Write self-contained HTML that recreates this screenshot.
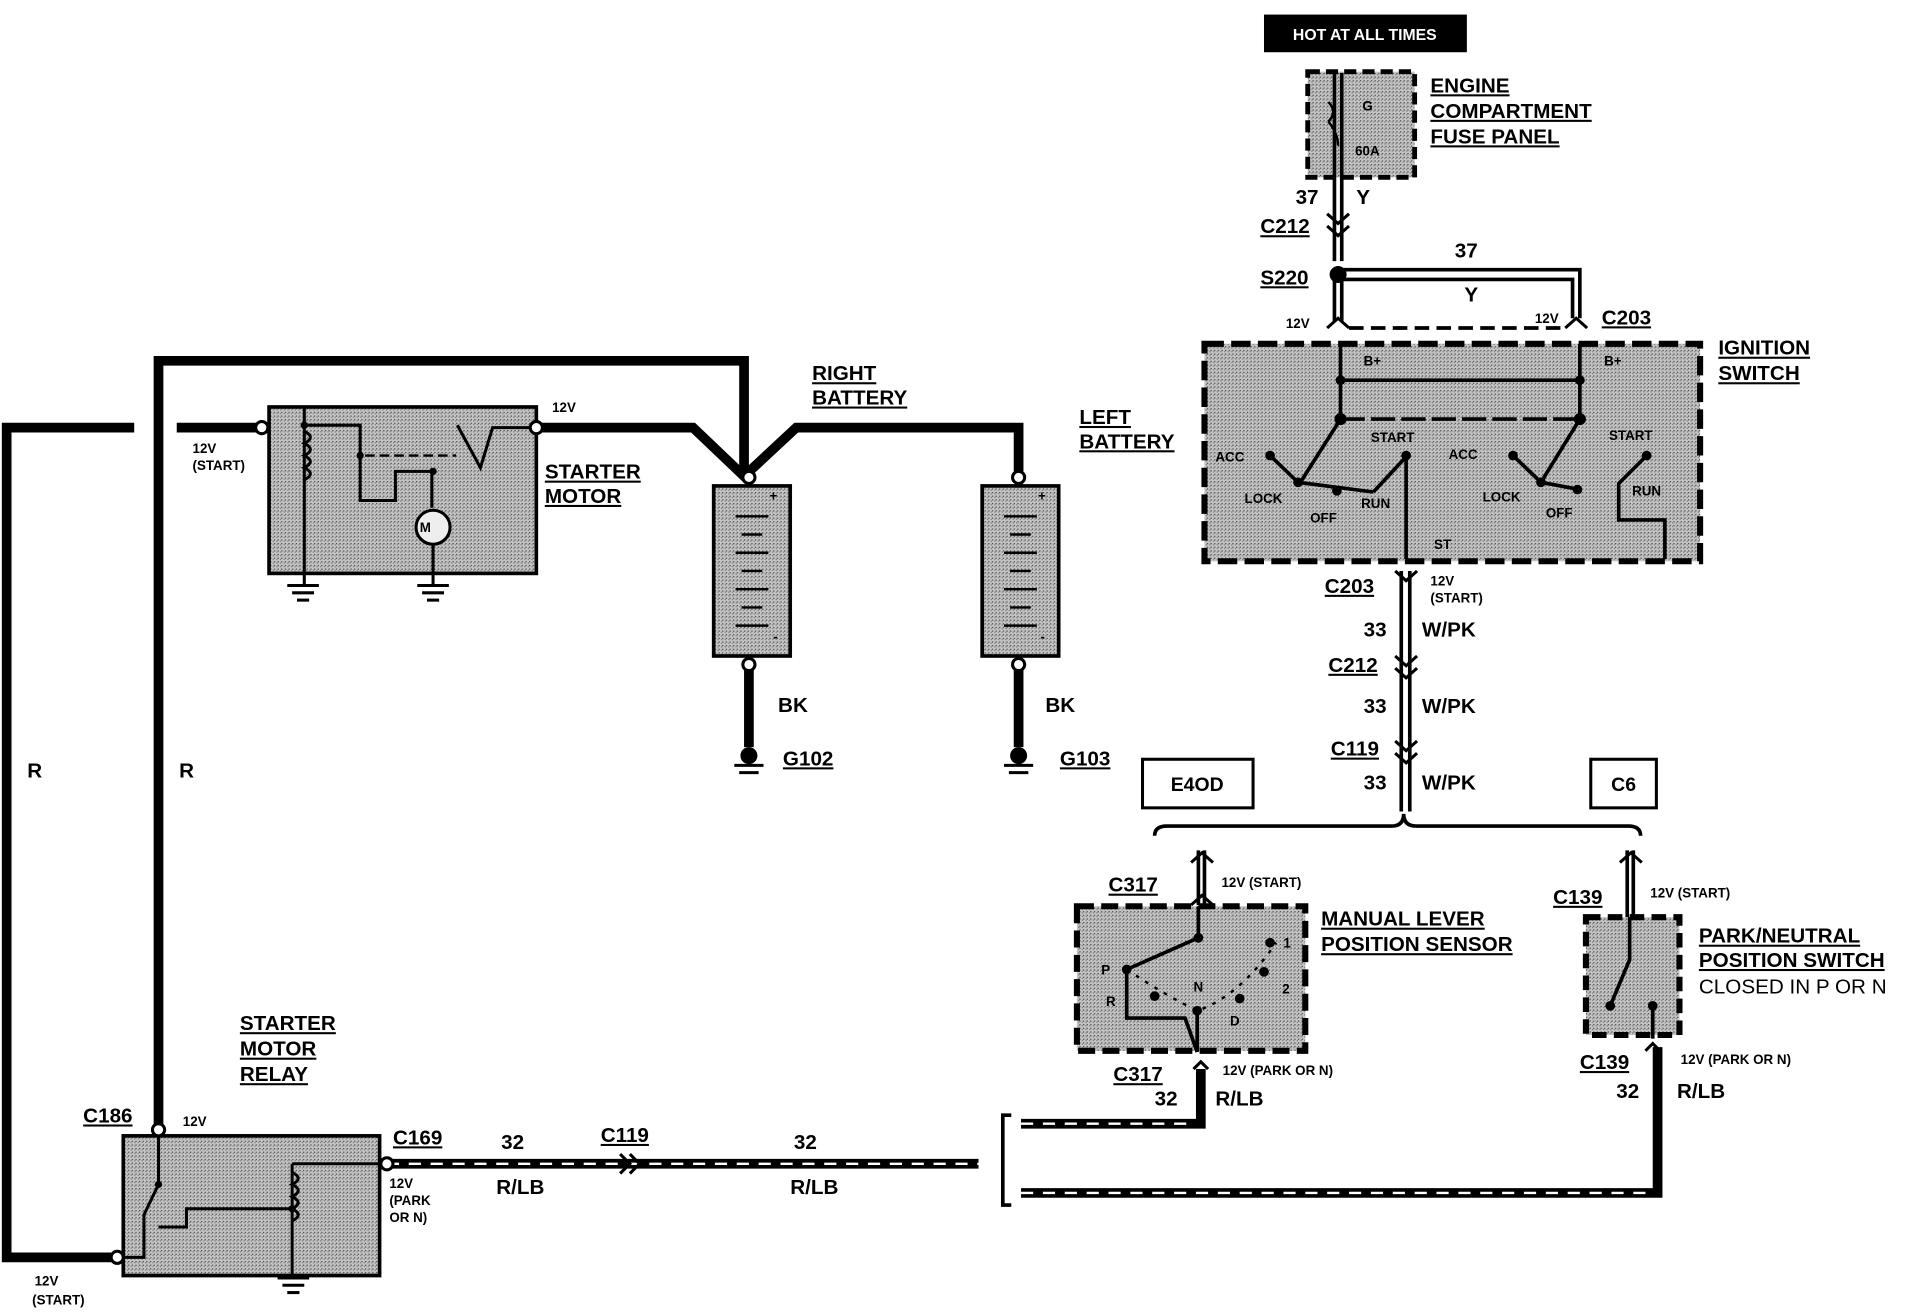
<!DOCTYPE html>
<html><head><meta charset="utf-8"><style>
html,body{margin:0;padding:0;background:#fff;}
svg{display:block;}
text{font-family:"Liberation Sans",Arial,sans-serif;font-weight:bold;fill:#000;}
.u{text-decoration:underline;}
</style></head><body>
<svg width="1906" height="1312" viewBox="0 0 1568 1080" xmlns="http://www.w3.org/2000/svg">
<defs>
<pattern id="st" width="3" height="3" patternUnits="userSpaceOnUse">
<rect width="3" height="3" fill="#c4c4c4"/><rect width="1" height="1" fill="#444"/><rect x="2" y="1" width="1" height="1" fill="#777"/>
</pattern>
</defs>
<g fill="none" stroke="#000" stroke-linejoin="miter">
<polyline points="110,352 5,352 5,1035 92,1035" stroke-width="8"/>
<polyline points="130,928 130,297 612,297 612,392" stroke-width="8"/>
<line x1="145" y1="352" x2="214" y2="352" stroke-width="8"/>
<polyline points="444,352 570,352 612,392 655,352 838,352 838,388" stroke-width="8"/>
<line x1="616" y1="548" x2="616" y2="615" stroke-width="8"/>
<line x1="838" y1="548" x2="838" y2="615" stroke-width="8"/>
<line x1="318" y1="958" x2="805" y2="958" stroke-width="8"/>
<line x1="318" y1="958" x2="805" y2="958" stroke="#fff" stroke-width="2" stroke-dasharray="10,8"/>
<polyline points="840,925 988,925 988,880" stroke-width="8"/>
<polyline points="840,925 984,925" stroke="#fff" stroke-width="2" stroke-dasharray="10,8"/>
<polyline points="840,982 1364,982 1364,862" stroke-width="8"/>
<polyline points="840,982 1360,982" stroke="#fff" stroke-width="2" stroke-dasharray="10,8"/>
<polyline points="832,918 825,918 825,992 832,992" stroke-width="3"/>
<rect x="1076" y="59" width="88" height="87" fill="url(#st)" stroke-width="4" stroke-dasharray="10,5"/>
<line x1="1098" y1="60" x2="1098" y2="215" stroke-width="3"/>
<line x1="1104" y1="60" x2="1104" y2="215" stroke-width="3"/>
<path d="M1093,100 q8,-8 0,-16 M1093,100 q8,10 8,20" stroke-width="2"/>
<polyline points="1102,222 1300,222 1300,262" stroke-width="3"/>
<polyline points="1102,230 1294,230 1294,262" stroke-width="3"/>
<line x1="1098" y1="230" x2="1098" y2="265" stroke-width="3"/>
<line x1="1104" y1="230" x2="1104" y2="265" stroke-width="3"/>
<line x1="1110" y1="270" x2="1290" y2="270" stroke-width="3" stroke-dasharray="12,6"/>
<!-- connector chevrons -->
<path d="M1092,176 l9,8 l9,-8 M1092,186 l9,8 l9,-8" stroke-width="2.5"/>
<path d="M1092,270 l9,-8 l9,8 M1288,270 l9,-8 l9,8" stroke-width="2.5"/>
<path d="M1148,470 l9,8 l9,-8" stroke-width="2.5"/>
<path d="M1148,540 l9,8 l9,-8 M1148,550 l9,8 l9,-8" stroke-width="2.5"/>
<path d="M1148,610 l9,8 l9,-8 M1148,620 l9,8 l9,-8" stroke-width="2.5"/>
<path d="M980,710 l9,-8 l9,8 M980,745 l9,-8 l9,8 M982,880 l6,-6 l6,6" stroke-width="2.5"/>
<path d="M1333,710 l9,-8 l9,8 M1354,865 l6,-6 l6,6" stroke-width="2.5"/>
<path d="M510,950 l8,8 l-8,8 M518,950 l8,8 l-8,8" stroke-width="2.5"/>
<rect x="991" y="283" width="408" height="179" fill="url(#st)" stroke-width="5" stroke-dasharray="16,6"/>
<line x1="1103" y1="283" x2="1103" y2="345" stroke-width="3"/>
<line x1="1300" y1="283" x2="1300" y2="345" stroke-width="3"/>
<line x1="1103" y1="313" x2="1300" y2="313" stroke-width="3"/>
<line x1="1103" y1="345" x2="1300" y2="345" stroke-width="3" stroke-dasharray="20,5"/>
<line x1="1103" y1="345" x2="1070" y2="397" stroke-width="3"/>
<line x1="1300" y1="345" x2="1268" y2="397" stroke-width="3"/>
<line x1="1045" y1="375" x2="1068" y2="397" stroke-width="3"/>
<line x1="1245" y1="375" x2="1268" y2="397" stroke-width="3"/>
<line x1="1068" y1="397" x2="1130" y2="405" stroke-width="3"/>
<line x1="1268" y1="397" x2="1300" y2="403" stroke-width="3"/>
<line x1="1130" y1="405" x2="1158" y2="375" stroke-width="3"/>
<polyline points="1355,375 1332,398 1332,428 1370,428 1370,460" stroke-width="3"/>
<line x1="1157" y1="375" x2="1157" y2="460" stroke-width="3"/>
<line x1="1153" y1="470" x2="1153" y2="668" stroke-width="3"/>
<line x1="1160" y1="470" x2="1160" y2="668" stroke-width="3"/>
<path d="M950,688 Q950,680 960,680 L1145,680 Q1155,680 1155,670 Q1155,680 1165,680 L1340,680 Q1350,680 1350,688" stroke-width="3"/>
<line x1="986" y1="700" x2="986" y2="745" stroke-width="3"/>
<line x1="991" y1="700" x2="991" y2="745" stroke-width="3"/>
<line x1="1339" y1="700" x2="1339" y2="755" stroke-width="3"/>
<line x1="1344" y1="700" x2="1344" y2="755" stroke-width="3"/>
<rect x="886" y="746" width="188" height="119" fill="url(#st)" stroke-width="5" stroke-dasharray="14,6"/>
<polyline points="986,746 986,772 927,798 927,838 975,838 985,866" stroke-width="3"/>
<path d="M927,798 Q960,820 985,832 Q1020,820 1050,776" stroke-width="2" stroke-dasharray="3,6"/>
<line x1="985" y1="832" x2="985" y2="866" stroke-width="3"/>
<rect x="1305" y="755" width="77" height="97" fill="url(#st)" stroke-width="5" stroke-dasharray="12,6"/>
<polyline points="1341,755 1341,790 1325,828" stroke-width="3"/>
<polyline points="1360,828 1360,855" stroke-width="3"/>
<rect x="221" y="335" width="220" height="137" fill="url(#st)" stroke-width="3"/>
<polyline points="250,335 250,482" stroke-width="2.5"/>
<path d="M250,355 q10,5 0,10 q10,5 0,10 q10,5 0,10 q10,5 0,10" stroke-width="2.5"/>
<polyline points="250,350 296,350 296,412 325,412 325,388 355,388 355,418" stroke-width="2.5"/>
<line x1="300" y1="375" x2="375" y2="375" stroke-width="2" stroke-dasharray="8,4"/>
<polyline points="376,350 395,385 405,352 438,352" stroke-width="2.5"/>
<circle cx="356" cy="434" r="14" stroke-width="2.5" fill="#eee"/>
<line x1="356" y1="448" x2="356" y2="482" stroke-width="2.5"/>
<rect x="587" y="400" width="63" height="140" fill="url(#st)" stroke-width="3"/>
<rect x="808" y="400" width="63" height="140" fill="url(#st)" stroke-width="3"/>
<rect x="101" y="935" width="211" height="115" fill="url(#st)" stroke-width="3"/>
<polyline points="130,932 130,975 118,1000 118,1035 96,1035" stroke-width="2.5"/>
<polyline points="130,1010 153,1010 153,995 240,995" stroke-width="2.5"/>
<polyline points="240,958 312,958" stroke-width="2.5"/>
<polyline points="240,958 240,1050" stroke-width="2.5"/>
<path d="M240,965 q10,5 0,10 q10,5 0,10 q10,5 0,10 q10,5 0,10" stroke-width="2.5"/>
</g>
<g stroke="#000" stroke-width="2">
<line x1="605" y1="425" x2="632" y2="425"/><line x1="610" y1="440" x2="627" y2="440"/><line x1="605" y1="455" x2="632" y2="455"/><line x1="610" y1="470" x2="627" y2="470"/><line x1="605" y1="485" x2="632" y2="485"/><line x1="610" y1="500" x2="627" y2="500"/><line x1="605" y1="515" x2="632" y2="515"/>
<line x1="826" y1="425" x2="853" y2="425"/><line x1="831" y1="440" x2="848" y2="440"/><line x1="826" y1="455" x2="853" y2="455"/><line x1="831" y1="470" x2="848" y2="470"/><line x1="826" y1="485" x2="853" y2="485"/><line x1="831" y1="500" x2="848" y2="500"/><line x1="826" y1="515" x2="853" y2="515"/>
</g>
<g fill="#fff" stroke="#000" stroke-width="2.5">
<circle cx="215" cy="352" r="5"/><circle cx="441" cy="352" r="5"/>
<circle cx="616" cy="393" r="5"/><circle cx="838" cy="393" r="5"/>
<circle cx="616" cy="547" r="5"/><circle cx="838" cy="547" r="5"/>
<circle cx="130" cy="930" r="5"/><circle cx="96" cy="1035" r="5"/><circle cx="318" cy="958" r="5"/>
</g>
<g stroke="#000" stroke-width="2.5">
<line x1="236" y1="482" x2="262" y2="482"/><line x1="240" y1="488" x2="258" y2="488"/><line x1="244" y1="494" x2="254" y2="494"/>
<line x1="343" y1="482" x2="369" y2="482"/><line x1="347" y1="488" x2="365" y2="488"/><line x1="351" y1="494" x2="361" y2="494"/>
<line x1="228" y1="1052" x2="254" y2="1052"/><line x1="232" y1="1058" x2="250" y2="1058"/><line x1="236" y1="1064" x2="246" y2="1064"/>
<line x1="604" y1="630" x2="628" y2="630"/><line x1="608" y1="636" x2="624" y2="636"/>
<line x1="826" y1="630" x2="850" y2="630"/><line x1="830" y1="636" x2="846" y2="636"/>
</g>
<circle cx="616" cy="622" r="7"/><circle cx="838" cy="622" r="7"/>
<g fill="#000">
<circle cx="1101" cy="226" r="7"/><circle cx="1103" cy="313" r="4"/><circle cx="1300" cy="313" r="4"/>
<circle cx="1103" cy="345" r="5"/><circle cx="1300" cy="345" r="5"/>
<circle cx="1045" cy="375" r="4"/><circle cx="1068" cy="397" r="4"/><circle cx="1100" cy="404" r="4"/><circle cx="1157" cy="375" r="4"/>
<circle cx="1245" cy="375" r="4"/><circle cx="1268" cy="397" r="4"/><circle cx="1298" cy="403" r="4"/><circle cx="1355" cy="375" r="4"/>
<circle cx="986" cy="772" r="4"/><circle cx="927" cy="798" r="4"/><circle cx="1045" cy="776" r="4"/><circle cx="950" cy="820" r="4"/><circle cx="985" cy="832" r="4"/><circle cx="1020" cy="822" r="4"/><circle cx="1040" cy="800" r="4"/>
<circle cx="1325" cy="828" r="4"/><circle cx="1360" cy="828" r="4"/>
<circle cx="250" cy="350" r="3"/><circle cx="296" cy="375" r="3"/><circle cx="356" cy="388" r="3"/>
<circle cx="130" cy="975" r="3"/><circle cx="240" cy="995" r="3"/>
</g>
<rect x="1040" y="12" width="167" height="31" fill="#000"/>
<text x="1123" y="33" font-size="13" text-anchor="middle" style="fill:#fff">HOT AT ALL TIMES</text>
<g font-size="17">
<text x="1177" y="76" class="u">ENGINE</text>
<text x="1177" y="97" class="u">COMPARTMENT</text>
<text x="1177" y="118" class="u">FUSE PANEL</text>
<text x="1066" y="168">37</text><text x="1116" y="168">Y</text>
<text x="1037" y="192" class="u">C212</text>
<text x="1037" y="234" class="u">S220</text>
<text x="1197" y="212">37</text><text x="1205" y="248">Y</text>
<text x="1318" y="267" class="u">C203</text>
<text x="1414" y="292" class="u">IGNITION</text>
<text x="1414" y="313" class="u">SWITCH</text>
<text x="888" y="349" class="u">LEFT</text>
<text x="888" y="369" class="u">BATTERY</text>
<text x="668" y="313" class="u">RIGHT</text>
<text x="668" y="333" class="u">BATTERY</text>
<text x="448" y="394" class="u">STARTER</text>
<text x="448" y="414" class="u">MOTOR</text>
<text x="1090" y="488" class="u">C203</text>
<text x="1122" y="524">33</text><text x="1170" y="524">W/PK</text>
<text x="1093" y="553" class="u">C212</text>
<text x="1122" y="587">33</text><text x="1170" y="587">W/PK</text>
<text x="1095" y="622" class="u">C119</text>
<text x="1122" y="650">33</text><text x="1170" y="650">W/PK</text>
<text x="640" y="586">BK</text><text x="860" y="586">BK</text>
<text x="644" y="630" class="u">G102</text><text x="872" y="630" class="u">G103</text>
<text x="22" y="640">R</text><text x="147" y="640">R</text>
<text x="912" y="734" class="u">C317</text>
<text x="1087" y="762" class="u">MANUAL LEVER</text>
<text x="1087" y="783" class="u">POSITION SENSOR</text>
<text x="1278" y="744" class="u">C139</text>
<text x="1398" y="776" class="u">PARK/NEUTRAL</text>
<text x="1398" y="796" class="u">POSITION SWITCH</text>
<text x="1398" y="818" style="font-weight:normal">CLOSED IN P OR N</text>
<text x="916" y="890" class="u">C317</text>
<text x="950" y="910">32</text><text x="1000" y="910">R/LB</text>
<text x="1300" y="880" class="u">C139</text>
<text x="1330" y="904">32</text><text x="1380" y="904">R/LB</text>
<text x="197" y="848" class="u">STARTER</text>
<text x="197" y="869" class="u">MOTOR</text>
<text x="197" y="890" class="u">RELAY</text>
<text x="68" y="924" class="u">C186</text>
<text x="323" y="942" class="u">C169</text>
<text x="412" y="946">32</text><text x="408" y="983">R/LB</text>
<text x="494" y="940" class="u">C119</text>
<text x="653" y="946">32</text><text x="650" y="983">R/LB</text>
</g>
<rect x="940" y="625" width="91" height="40" fill="#fff" stroke="#000" stroke-width="2.5"/>
<text x="985" y="651" font-size="16" text-anchor="middle">E4OD</text>
<rect x="1309" y="625" width="54" height="40" fill="#fff" stroke="#000" stroke-width="2.5"/>
<text x="1336" y="651" font-size="16" text-anchor="middle">C6</text>
<g font-size="11">
<text x="1121" y="91">G</text><text x="1115" y="128">60A</text>
<text x="1058" y="270">12V</text><text x="1263" y="266">12V</text>
<text x="1122" y="301">B+</text><text x="1320" y="301">B+</text>
<text x="1128" y="364">START</text><text x="1324" y="362">START</text>
<text x="1000" y="380">ACC</text><text x="1192" y="378">ACC</text>
<text x="1024" y="414">LOCK</text><text x="1220" y="413">LOCK</text>
<text x="1120" y="418">RUN</text><text x="1343" y="408">RUN</text>
<text x="1078" y="430">OFF</text><text x="1272" y="426">OFF</text>
<text x="1180" y="452">ST</text>
<text x="1177" y="482">12V</text><text x="1177" y="496">(START)</text>
<text x="1005" y="730">12V (START)</text>
<text x="1358" y="739">12V (START)</text>
<text x="1006" y="885">12V (PARK OR N)</text>
<text x="1383" y="876">12V (PARK OR N)</text>
<text x="158" y="373">12V</text><text x="158" y="387">(START)</text>
<text x="454" y="339">12V</text>
<text x="150" y="927">12V</text>
<text x="320" y="978">12V</text><text x="320" y="992">(PARK</text><text x="320" y="1006">OR N)</text>
<text x="28" y="1058">12V</text><text x="26" y="1074">(START)</text>
<text x="906" y="802">P</text><text x="910" y="828">R</text><text x="982" y="816">N</text><text x="1012" y="844">D</text><text x="1055" y="818">2</text><text x="1056" y="780">1</text>
<text x="633" y="412">+</text><text x="854" y="412">+</text><text x="636" y="528">-</text><text x="856" y="528">-</text>
<text x="345" y="438">M</text>
</g>
</svg>
</body></html>
